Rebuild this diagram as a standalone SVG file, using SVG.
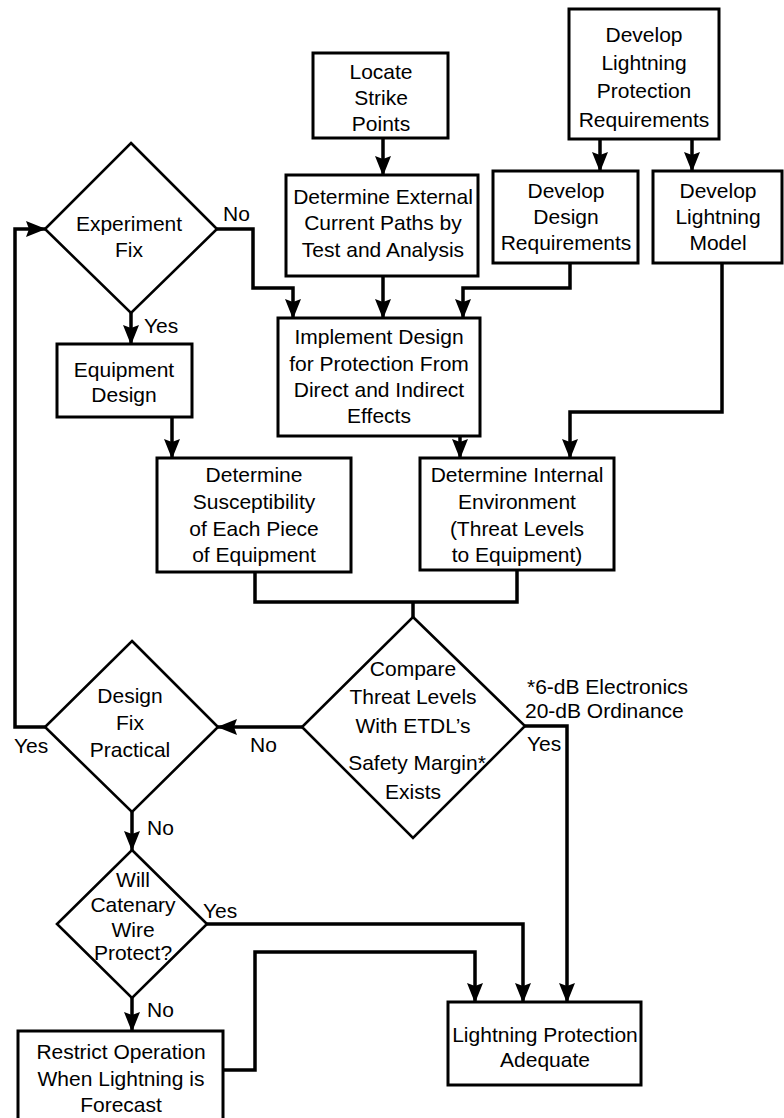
<svg xmlns="http://www.w3.org/2000/svg" width="784" height="1118" viewBox="0 0 784 1118">
<style>
.box{fill:#fff;stroke:#000;stroke-width:3}
.dia{fill:#fff;stroke:#000;stroke-width:2.6}
.con{fill:none;stroke:#000;stroke-width:3.5;stroke-linejoin:miter}
.arr{marker-end:url(#ah)}
text{font-family:"Liberation Sans",Arial,sans-serif;font-size:21px;fill:#000}
.c{text-anchor:middle}
</style>
<defs>
<marker id="ah" markerUnits="userSpaceOnUse" markerWidth="20" markerHeight="16" refX="19" refY="8" orient="auto">
<path d="M0,0 L20,8 L0,16 L3,8 z" fill="#000"/>
</marker>
</defs>
<rect width="784" height="1118" fill="#fff"/>
<g id="connectors">
<path class="con arr" d="M383,138 V175"/>
<path class="con arr" d="M600,139 V171"/>
<path class="con arr" d="M692,139 V171"/>
<path class="con arr" d="M383,276 V318"/>
<path class="con arr" d="M217,229 H253 V288 H293 V318"/>
<path class="con arr" d="M570,263 V288 H463 V318"/>
<path class="con arr" d="M131,313 V344"/>
<path class="con arr" d="M172,417 V458"/>
<path class="con arr" d="M460,436 V458"/>
<path class="con arr" d="M722,263 V412 H570 V458"/>
<path class="con" d="M255,572 V602 H517 V570"/>
<path class="con" d="M413,602 V617"/>
<path class="con arr" d="M302,727 H218"/>
<path class="con arr" d="M525,726 H567 V1002"/>
<path class="con arr" d="M45,727 H15 V229 H45"/>
<path class="con arr" d="M132,812 V850"/>
<path class="con arr" d="M207,924 H523 V1002"/>
<path class="con arr" d="M132,998 V1031"/>
<path class="con arr" d="M223,1070 H255 V952 H475 V1002"/>
<text x="223" y="221">No</text>
<text x="144" y="333">Yes</text>
<text x="250" y="752">No</text>
<text x="14" y="753">Yes</text>
<text x="147" y="835">No</text>
<text x="203" y="918">Yes</text>
<text x="147" y="1017">No</text>
<text x="527" y="751">Yes</text>
</g>
<g id="locate">
<rect class="box" x="313" y="53" width="135" height="85"/>
<text class="c" x="381" y="79">Locate</text>
<text class="c" x="381" y="105">Strike</text>
<text class="c" x="381" y="131">Points</text>
</g>
<g id="dlpr">
<rect class="box" x="569" y="9" width="150" height="130"/>
<text class="c" x="644" y="42">Develop</text>
<text class="c" x="644" y="70">Lightning</text>
<text class="c" x="644" y="98">Protection</text>
<text class="c" x="644" y="127">Requirements</text>
</g>
<g id="external">
<rect class="box" x="286" y="175" width="192" height="101"/>
<text class="c" x="383" y="204">Determine External</text>
<text class="c" x="383" y="230">Current Paths by</text>
<text class="c" x="383" y="257">Test and Analysis</text>
</g>
<g id="ddr">
<rect class="box" x="493" y="171" width="145" height="92"/>
<text class="c" x="566" y="198">Develop</text>
<text class="c" x="566" y="224">Design</text>
<text class="c" x="566" y="250">Requirements</text>
</g>
<g id="model">
<rect class="box" x="653" y="171" width="129" height="92"/>
<text class="c" x="718" y="198">Develop</text>
<text class="c" x="718" y="224">Lightning</text>
<text class="c" x="718" y="250">Model</text>
</g>
<g id="experiment">
<polygon class="dia" points="131,143 217,229 131,313 45,229"/>
<text class="c" x="129" y="231">Experiment</text>
<text class="c" x="129" y="257">Fix</text>
</g>
<g id="equipment">
<rect class="box" x="57" y="344" width="135" height="73"/>
<text class="c" x="124" y="377">Equipment</text>
<text class="c" x="124" y="402">Design</text>
</g>
<g id="implement">
<rect class="box" x="278" y="318" width="202" height="118"/>
<text class="c" x="379" y="344">Implement Design</text>
<text class="c" x="379" y="371">for Protection From</text>
<text class="c" x="379" y="397">Direct and Indirect</text>
<text class="c" x="379" y="423">Effects</text>
</g>
<g id="susceptibility">
<rect class="box" x="157" y="458" width="194" height="114"/>
<text class="c" x="254" y="482">Determine</text>
<text class="c" x="254" y="509">Susceptibility</text>
<text class="c" x="254" y="536">of Each Piece</text>
<text class="c" x="254" y="562">of Equipment</text>
</g>
<g id="internal">
<rect class="box" x="420" y="458" width="194" height="112"/>
<text class="c" x="517" y="482">Determine Internal</text>
<text class="c" x="517" y="509">Environment</text>
<text class="c" x="517" y="536">(Threat Levels</text>
<text class="c" x="517" y="562">to Equipment)</text>
</g>
<g id="compare">
<polygon class="dia" points="413,617 525,726 413,838 302,727"/>
<text class="c" x="413" y="676">Compare</text>
<text class="c" x="413" y="704">Threat Levels</text>
<text class="c" x="413" y="733">With ETDL’s</text>
<text class="c" x="417" y="770">Safety Margin*</text>
<text class="c" x="413" y="799">Exists</text>
</g>
<g id="footnote">
<text x="527" y="694">*6-dB Electronics</text>
<text x="525" y="718">20-dB Ordinance</text>
</g>
<g id="designfix">
<polygon class="dia" points="132,641 218,727 132,812 45,727"/>
<text class="c" x="130" y="703">Design</text>
<text class="c" x="130" y="730">Fix</text>
<text class="c" x="130" y="757">Practical</text>
</g>
<g id="catenary">
<polygon class="dia" points="132,850 207,924 132,998 57,924"/>
<text class="c" x="133" y="887">Will</text>
<text class="c" x="133" y="912">Catenary</text>
<text class="c" x="133" y="937">Wire</text>
<text class="c" x="133" y="960">Protect?</text>
</g>
<g id="restrict">
<rect class="box" x="18" y="1031" width="205" height="95"/>
<text class="c" x="121" y="1059">Restrict Operation</text>
<text class="c" x="121" y="1086">When Lightning is</text>
<text class="c" x="121" y="1112">Forecast</text>
</g>
<g id="adequate">
<rect class="box" x="448" y="1002" width="193" height="83"/>
<text class="c" x="545" y="1042">Lightning Protection</text>
<text class="c" x="545" y="1067">Adequate</text>
</g>
</svg>
